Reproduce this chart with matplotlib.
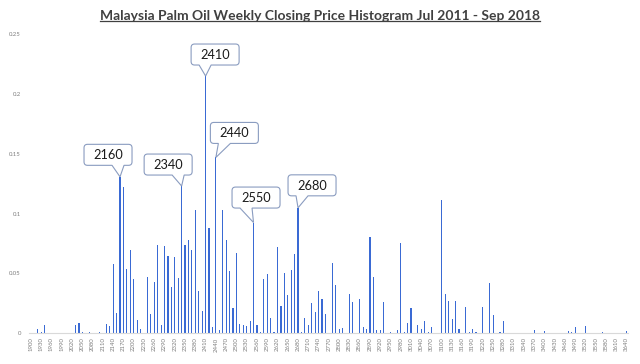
import matplotlib
matplotlib.use("Agg")
import matplotlib.pyplot as plt
import matplotlib.transforms as mtransforms
from matplotlib.path import Path
from matplotlib.patches import PathPatch
from matplotlib.lines import Line2D

# ---------------- data ----------------
bins = list(range(1900, 3641, 10))
freq = [
    0, 0, 0.0039, 0.0011, 0.0072, 0, 0, 0, 0, 0,                      # 1900-1990
    0, 0, 0, 0.0070, 0.0084, 0.0011, 0, 0.0011, 0, 0,                 # 2000-2090
    0.0011, 0, 0.0077, 0.0058, 0.0577, 0.0168, 0.1307, 0.1222, 0.0535, 0.0697,  # 2100-2190
    0.0455, 0.0112, 0.0038, 0, 0.0470, 0.0160, 0.0428, 0.0736, 0.0070, 0.0733,  # 2200-2290
    0.0645, 0.0390, 0.0640, 0.0466, 0.1230, 0.0741, 0.0783, 0.0694, 0.1034, 0.0356,  # 2300-2390
    0.0188, 0.2149, 0.0878, 0.0054, 0.1469, 0.0027, 0.1026, 0.0778, 0.0520, 0.0212,  # 2400-2490
    0.0673, 0.0080, 0.0067, 0.0061, 0.0100, 0.0925, 0.0070, 0.0011, 0.0452, 0.0496,  # 2500-2590
    0.0128, 0.0011, 0.0722, 0.0229, 0.0502, 0.0323, 0.0530, 0.0663, 0.1048, 0.0011,  # 2600-2690
    0.0131, 0.0070, 0.0256, 0.0181, 0.0351, 0.0290, 0.0162, 0, 0.0585, 0.0407,  # 2700-2790
    0.0033, 0.0045, 0, 0.0329, 0.0262, 0, 0.0284, 0.0050, 0.0039, 0.0808,  # 2800-2890
    0.0468, 0.0028, 0.0028, 0.0262, 0, 0.0011, 0, 0.0028, 0.0755, 0.0011,  # 2900-2990
    0.0084, 0.0212, 0.0006, 0.0067, 0.0035, 0.0103, 0.0014, 0.0053, 0, 0,  # 3000-3090
    0.1112, 0.0329, 0.0270, 0.0120, 0.0270, 0.0033, 0, 0.0217, 0.0011, 0.0036,  # 3100-3190
    0.0011, 0, 0.0217, 0, 0.0418, 0.0156, 0, 0.0011, 0.0103, 0.0006,  # 3200-3290
    0, 0, 0, 0, 0, 0, 0, 0.0028, 0, 0,                                # 3300-3390
    0.0022, 0, 0, 0, 0, 0, 0, 0.0020, 0.0014, 0.0053,                 # 3400-3490
    0, 0, 0.0064, 0, 0, 0, 0, 0.0014, 0, 0,                           # 3500-3590
    0, 0, 0, 0, 0.0020,                                               # 3600-3640
]
callout_bins = [2160, 2340, 2410, 2440, 2550, 2680]
title = "Malaysia Palm Oil Weekly Closing Price Histogram Jul 2011 - Sep 2018"
yticks = [0, 0.05, 0.1, 0.15, 0.2, 0.25]
ytick_labels = ["0", "0.05", "0.1", "0.15", "0.2", "0.25"]

# ---------------- layout / style ----------------
# callout box centre offsets from the tip (pixels, y up)
callout_offsets = {2160: (-12, 22), 2340: (-13.5, 21.5), 2410: (9.5, 21.5),
                   2440: (18.5, 24.5), 2550: (2.5, 25), 2680: (14, 22.5)}
BOX_W, BOX_H = 48, 21
BAR_COLOR = "#3a6ad4"
EDGE = "#8a9cc0"

DPI = 100
fig = plt.figure(figsize=(6.4, 3.64), dpi=DPI)
ax = fig.add_axes([29.3 / 640, 1 - 333.3 / 364, (628.4 - 29.3) / 640, (333.3 - 34) / 364])

x = list(range(len(bins)))
ax.bar(x, freq, width=0.34, color=BAR_COLOR, linewidth=0)
ax.set_xlim(-0.5, len(bins) - 0.5)
ax.set_ylim(0, 0.25)

tick_idx = x[::3]
ax.set_xticks(tick_idx)
ax.set_xticklabels([str(bins[i]) for i in tick_idx], rotation=90,
                   fontsize=4.3, color="#7f7f7f", family="Lato")
ax.set_yticks(yticks)
ax.set_yticklabels(ytick_labels, fontsize=4.3, color="#7f7f7f", family="Lato")
ax.tick_params(axis="both", length=0)
ax.tick_params(axis="x", pad=3)
ax.tick_params(axis="y", pad=6)
for s in ["top", "right", "left"]:
    ax.spines[s].set_visible(False)
ax.spines["bottom"].set_color("#d9d9d9")
ax.spines["bottom"].set_linewidth(0.8)


def callout_path(dx, dy, w, h):
    """Excel-like wedgeRoundRectCallout, tip at (0,0), centre at (dx,dy) (px, y up)."""
    l, r = dx - w / 2, dx + w / 2
    b, t = dy - h / 2, dy + h / 2
    rad = min(w, h) * 0.1667
    if -dx > 0:   # tip to the right of centre
        x1, x2 = l + w * 7 / 12, l + w * 10 / 12
    else:
        x1, x2 = l + w * 2 / 12, l + w * 5 / 12
    verts = [
        (l + rad, t), (r - rad, t), (r, t), (r, t - rad),
        (r, b + rad), (r, b), (r - rad, b),
        (x2, b), (0, 0), (x1, b),
        (l + rad, b), (l, b), (l, b + rad),
        (l, t - rad), (l, t), (l + rad, t), (l + rad, t)
    ]
    codes = [Path.MOVETO, Path.LINETO, Path.CURVE3, Path.CURVE3,
             Path.LINETO, Path.CURVE3, Path.CURVE3,
             Path.LINETO, Path.LINETO, Path.LINETO,
             Path.LINETO, Path.CURVE3, Path.CURVE3,
             Path.LINETO, Path.CURVE3, Path.CURVE3, Path.CLOSEPOLY]
    return Path(verts, codes)


for b in callout_bins:
    i = bins.index(b)
    v = freq[i]
    ox, oy = callout_offsets[b]
    path = callout_path(ox, oy, BOX_W, BOX_H)
    trans = mtransforms.Affine2D() + mtransforms.ScaledTranslation(i, v, ax.transData)
    patch = PathPatch(path, facecolor="white", edgecolor=EDGE, linewidth=0.8,
                      transform=trans, clip_on=False, zorder=5)
    ax.add_artist(patch)
    ax.annotate(str(b), xy=(i, v), xytext=(ox, oy - 0.5), textcoords="offset pixels",
                ha="center", va="center", fontsize=9.2, family="Lato",
                color="#1a1a1a", zorder=6, annotation_clip=False)

# title with underline
t = fig.text(0.5, 1 - 20 / 364, title, ha="center", va="baseline",
             fontsize=10, fontweight="bold", family="Lato", color="#404040")
fig.canvas.draw()
bb = t.get_window_extent(fig.canvas.get_renderer())
inv = fig.transFigure.inverted()
(x0, y0), (x1_, _) = inv.transform([(bb.x0, bb.y0 + 1), (bb.x1, bb.y0 + 1)])
fig.add_artist(Line2D([x0, x1_], [y0, y0], transform=fig.transFigure,
                      color="#404040", linewidth=0.9))

fig.savefig("out.png", dpi=DPI)
